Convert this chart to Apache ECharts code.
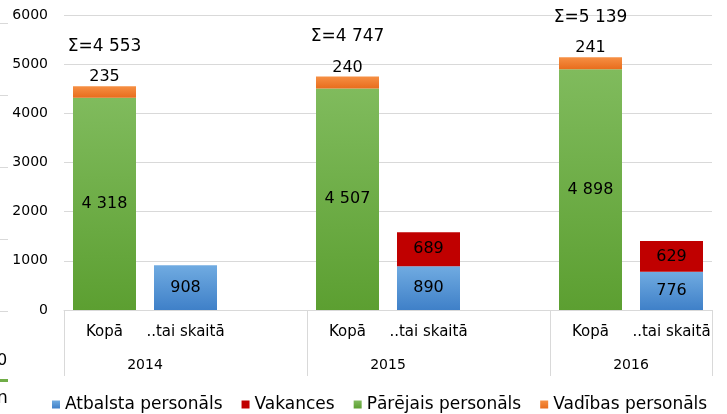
<!DOCTYPE html>
<html>
<head>
<meta charset="utf-8">
<script src="https://cdn.jsdelivr.net/npm/echarts@6/dist/echarts.min.js"></script>
<style>
  html, body { margin: 0; padding: 0; background: #fff; }
  #chart { width: 727px; height: 414px; }
</style>
</head>
<body>
<div id="chart"></div>
<script>
// data
const years = ['2014', '2015', '2016'];
const subCats = ['Kopā', '..tai skaitā'];
const parejais = [4318, 4507, 4898];   // Pārējais personāls (Kopā)
const vadibas = [235, 240, 241];       // Vadības personāls (Kopā)
const atbalsta = [908, 890, 776];      // Atbalsta personāls (..tai skaitā)
const vakances = [null, 689, 629];     // Vakances (..tai skaitā)

const totals = parejais.map((v, i) => v + vadibas[i]);

// thousands with a space, like "4 318"
function fmt(v) {
    return String(v).replace(/\B(?=(\d{3})+(?!\d))/g, ' ');
}

// 3 slots per year (Kopā, ..tai skaitā, gap), no gap after the last year
const categories = [];
years.forEach((y, i) => {
    categories.push(...subCats);
    if (i < years.length - 1) categories.push('');
});
// year axis: points on slot borders, year sits between its two bars
const yearCats = new Array(categories.length + 1).fill('');
years.forEach((y, i) => { yearCats[3 * i + 1] = y; });

function spread(vals, offset) {
    const out = new Array(categories.length).fill(null);
    vals.forEach((v, i) => { out[3 * i + offset] = v; });
    return out;
}

function grad(top, bottom) {
    return new echarts.graphic.LinearGradient(0, 0, 0, 1, [
        { offset: 0, color: top },
        { offset: 1, color: bottom }
    ]);
}

const FONT = 'DejaVu Sans';
const GRID = '#d9d9d9';

const chart = echarts.init(document.getElementById('chart'), null, { renderer: 'canvas' });

const insideLabel = {
    show: true,
    position: 'inside',
    color: '#000',
    fontSize: 16,
    fontFamily: FONT,
    formatter: p => fmt(p.value)
};

const option = {
    animation: false,
    textStyle: { fontFamily: FONT },
    grid: { left: 64, right: 15, top: 15, bottom: 104 },
    legend: {
        left: 47,
        top: 391,
        itemWidth: 8,
        itemHeight: 8,
        itemGap: 19,
        icon: 'rect',
        textStyle: { fontSize: 17, color: '#000', fontFamily: FONT },
        data: ['Atbalsta personāls', 'Vakances', 'Pārējais personāls', 'Vadības personāls']
    },
    xAxis: [
        {
            type: 'category',
            position: 'bottom',
            data: categories,
            axisLine: { show: true, lineStyle: { color: GRID } },
            axisTick: { show: false },
            axisLabel: { interval: 0, margin: 15, fontSize: 15, color: '#000' }
        },
        {
            type: 'category',
            position: 'bottom',
            boundaryGap: false,
            data: yearCats,
            axisLine: { show: false },
            axisTick: {
                show: true,
                length: 66,
                lineStyle: { color: GRID },
                interval: (idx) => idx % 3 === 0 || idx === yearCats.length - 1
            },
            axisLabel: { interval: 0, margin: 48, fontSize: 14, color: '#000' }
        }
    ],
    yAxis: {
        type: 'value',
        min: 0,
        max: 6000,
        interval: 1000,
        axisLine: { show: false },
        axisTick: { show: false },
        axisLabel: { margin: 16, fontSize: 14, color: '#000', formatter: v => String(v) },
        splitLine: { lineStyle: { color: GRID } }
    },
    series: [
        {
            name: 'Atbalsta personāls',
            type: 'bar',
            stack: 'all',
            barWidth: 63,
            data: spread(atbalsta, 1),
            itemStyle: { color: grad('#70abe1', '#3f80c8') },
            label: insideLabel
        },
        {
            name: 'Vakances',
            type: 'bar',
            stack: 'all',
            barWidth: 63,
            data: spread(vakances, 1),
            itemStyle: { color: '#c00000' },
            label: insideLabel
        },
        {
            name: 'Pārējais personāls',
            type: 'bar',
            stack: 'all',
            barWidth: 63,
            data: spread(parejais, 0),
            itemStyle: { color: grad('#80bb5d', '#5c9f31') },
            label: insideLabel
        },
        {
            name: 'Vadības personāls',
            type: 'bar',
            stack: 'all',
            barWidth: 63,
            data: spread(vadibas, 0),
            itemStyle: { color: grad('#f68f43', '#e86d1d') },
            label: {
                show: true,
                position: 'top',
                distance: 0,
                color: '#000',
                fontFamily: FONT,
                formatter: p => '{s|Σ=' + fmt(totals[p.dataIndex / 3]) + '}\n{v|' + fmt(p.value) + '}',
                rich: {
                    s: { fontSize: 17, lineHeight: 44, color: '#000', fontFamily: FONT },
                    v: { fontSize: 16, lineHeight: 18, color: '#000', fontFamily: FONT }
                }
            }
        }
    ],
    // cropped bits of a neighbouring chart on the left edge
    graphic: [
        { type: 'line', shape: { x1: 0, y1: 23.5, x2: 8, y2: 23.5 }, style: { stroke: GRID } },
        { type: 'line', shape: { x1: 0, y1: 95.5, x2: 8, y2: 95.5 }, style: { stroke: GRID } },
        { type: 'line', shape: { x1: 0, y1: 167.5, x2: 8, y2: 167.5 }, style: { stroke: GRID } },
        { type: 'line', shape: { x1: 0, y1: 239.5, x2: 8, y2: 239.5 }, style: { stroke: GRID } },
        { type: 'line', shape: { x1: 0, y1: 311.5, x2: 8, y2: 311.5 }, style: { stroke: GRID } },
        { type: 'text', left: -3, top: 353, style: { text: '0', fontSize: 16, fill: '#000', fontFamily: FONT } },
        { type: 'rect', shape: { x: 0, y: 379, width: 8, height: 3 }, style: { fill: '#70ad47' } },
        { type: 'text', left: -3, top: 390, style: { text: 'n', fontSize: 17, fill: '#000', fontFamily: FONT } }
    ]
};

chart.setOption(option);
</script>
</body>
</html>
